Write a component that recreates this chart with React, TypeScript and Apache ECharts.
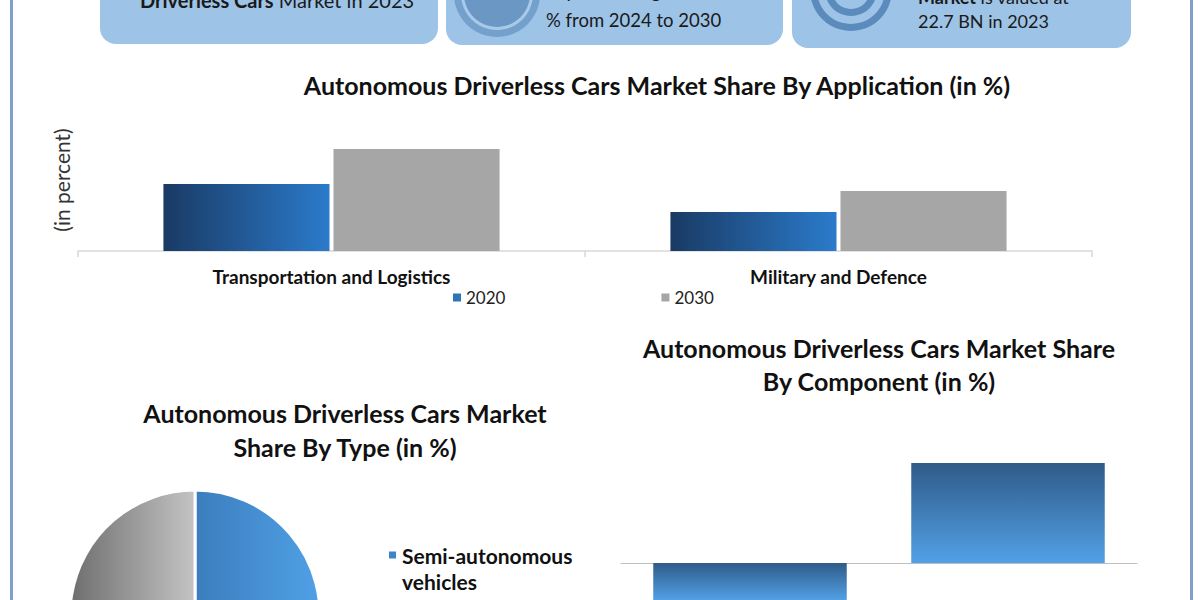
import React, { useEffect, useRef } from "react";
import * as echarts from "echarts";

// ---- data ----
const appCategories = ["Transportation and Logistics", "Military and Defence"];
const appYears = ["2020", "2030"];
const apps2020 = [33.5, 19.5];
const apps2030 = [51, 30];

const typeNames = ["Semi-autonomous vehicles", "Fully autonomous vehicles"];
const typeShares = [55, 45];

const componentNames = ["Hardware", "Software"];
const componentShares = [-30, 50];

const FONT = "Lato, 'Open Sans', sans-serif";

// legend marker: a square at the top of a taller, otherwise empty box
const TOP_SQUARE = "path://M0,0L9,0L9,9L0,9Z M0,35L0.01,35L0.01,35.01L0,35.01Z";

export default function App() {
  const ref = useRef<HTMLDivElement>(null);

  useEffect(() => {
    if (!ref.current) return;
    const chart = echarts.init(ref.current, null, { renderer: "svg" });

    const hGrad = (a: string, b: string) => ({
      type: "linear", x: 0, y: 0, x2: 1, y2: 0,
      colorStops: [{ offset: 0, color: a }, { offset: 1, color: b }],
    });
    const vGrad = (a: string, b: string) => ({
      type: "linear", x: 0, y: 0, x2: 0, y2: 1,
      colorStops: [{ offset: 0, color: a }, { offset: 1, color: b }],
    });

    const cardFill = "#9dc3e6";
    const titleStyle = (lh: number) => ({
      fontFamily: FONT, fontWeight: "bold", fontSize: 25, color: "#111", lineHeight: lh,
    });

    const option: any = {
      animation: false,
      backgroundColor: "#ffffff",
      textStyle: { fontFamily: FONT },
      title: [
        {
          text: "Autonomous Driverless Cars Market Share By Application (in %)",
          left: 657, top: 70, textAlign: "center", padding: 0,
          textStyle: titleStyle(30),
        },
        {
          text: "Autonomous Driverless Cars Market\nShare By Type (in %)",
          left: 345, top: 396, textAlign: "center", padding: 0,
          textStyle: titleStyle(34),
        },
        {
          text: "Autonomous Driverless Cars Market Share\nBy Component (in %)",
          left: 879, top: 331, textAlign: "center", padding: 0,
          textStyle: titleStyle(33),
        },
      ],
      legend: [
        {
          left: 453, top: 289, padding: 0, itemWidth: 8, itemHeight: 8, itemGap: 156,
          icon: "rect",
          data: [
            { name: appYears[0], itemStyle: { color: "#2e75b6" } },
            { name: appYears[1], itemStyle: { color: "#a6a6a6" } },
          ],
          textStyle: { fontFamily: FONT, fontSize: 17, color: "#222" },
        },
        {
          left: 387, top: 542, padding: 0, orient: "vertical", height: 200,
          itemWidth: 9, itemHeight: 35, itemGap: 10,
          icon: TOP_SQUARE,
          data: [
            { name: typeNames[0], itemStyle: { color: "#3f84c6" } },
            { name: typeNames[1], itemStyle: { color: "#a6a6a6" } },
          ],
          formatter: (n: string) => n.replace(" vehicles", "\nvehicles"),
          textStyle: {
            fontFamily: FONT, fontSize: 21, fontWeight: "bold", color: "#111", lineHeight: 26,
          },
        },
      ],
      grid: [
        { left: 78, right: 108, top: 109, height: 142 },
        { left: 621, right: 63, top: 463, bottom: 0 },
      ],
      xAxis: [
        {
          type: "category", gridIndex: 0, data: appCategories,
          axisLine: { lineStyle: { color: "#d9d9d9", width: 1.5 } },
          axisTick: { show: true, length: 6, lineStyle: { color: "#d9d9d9", width: 1.5 } },
          axisLabel: { fontFamily: FONT, fontWeight: "bold", fontSize: 19, color: "#111", margin: 16 },
        },
        {
          type: "category", gridIndex: 1, data: componentNames,
          axisLine: { lineStyle: { color: "#bfbfbf", width: 1 } },
          axisTick: { show: false },
          axisLabel: { show: false },
        },
      ],
      yAxis: [
        {
          type: "value", gridIndex: 0, min: 0, max: 71,
          splitLine: { show: false }, axisLabel: { show: false }, axisLine: { show: false }, axisTick: { show: false },
          name: "(in percent)", nameLocation: "middle", nameRotate: 90, nameGap: 6,
          nameTextStyle: { fontFamily: FONT, fontSize: 21, color: "#333" },
        },
        {
          type: "value", gridIndex: 1, min: -18.5, max: 50,
          splitLine: { show: false }, axisLabel: { show: false }, axisLine: { show: false }, axisTick: { show: false },
        },
      ],
      series: [
        {
          name: appYears[0], type: "bar", xAxisIndex: 0, yAxisIndex: 0,
          data: apps2020, barCategoryGap: "33.7%", barGap: "2.4%",
          itemStyle: { color: hGrad("#193a64", "#2b7bcb") },
        },
        {
          name: appYears[1], type: "bar", xAxisIndex: 0, yAxisIndex: 0,
          data: apps2030, barCategoryGap: "33.7%", barGap: "2.4%",
          itemStyle: { color: "#a6a6a6" },
        },
        {
          name: "Type", type: "pie", center: [195, 615], radius: 125, startAngle: 90,
          label: { show: false }, labelLine: { show: false },
          itemStyle: { borderColor: "#ffffff", borderWidth: 3 },
          data: [
            { name: typeNames[0], value: typeShares[0], itemStyle: { color: hGrad("#3573b0", "#50a0e6") } },
            { name: typeNames[1], value: typeShares[1], itemStyle: { color: hGrad("#6e6e6e", "#c4c4c4") } },
          ],
        },
        {
          name: "Component", type: "bar", xAxisIndex: 1, yAxisIndex: 1,
          data: componentShares, barCategoryGap: "25%", clip: true,
          itemStyle: { color: vGrad("#2f5b88", "#52a0e6") },
        },
      ],
      graphic: [
        // side borders
        { type: "rect", shape: { x: 10, y: 0, width: 3, height: 600 }, style: { fill: "#7fa0c8" } },
        { type: "rect", shape: { x: 1190, y: 0, width: 3, height: 600 }, style: { fill: "#7fa0c8" } },
        // cards
        { type: "rect", shape: { x: 100, y: -30, width: 338, height: 74, r: 16 }, style: { fill: cardFill } },
        { type: "rect", shape: { x: 446, y: -30, width: 337, height: 75, r: 16 }, style: { fill: cardFill } },
        { type: "rect", shape: { x: 792, y: -30, width: 339, height: 78, r: 16 }, style: { fill: cardFill } },
        // card 2 icon
        { type: "circle", shape: { cx: 497, cy: -6, r: 43 }, style: { fill: "#74a0cc" } },
        { type: "circle", shape: { cx: 497, cy: -6, r: 36 }, style: { fill: "#a9c9ea" } },
        { type: "circle", shape: { cx: 497, cy: -6, r: 33 }, style: { fill: "#6a97c4" } },
        // card 3 icon
        { type: "ring", shape: { cx: 851, cy: -10, r: 41, r0: 34 }, style: { fill: "#5b8bbd" } },
        { type: "ring", shape: { cx: 851, cy: -10, r: 26, r0: 19 }, style: { fill: "#5b8bbd" } },
        // card texts
        {
          type: "text", x: 140, y: 0,
          style: {
            text: "{b|Driverless Cars} Market in 2023",
            font: `20px ${FONT}`, fill: "#1a1a1a", textVerticalAlign: "middle",
            rich: { b: { fontWeight: "bold", fontSize: 20, fontFamily: FONT, fill: "#1a1a1a" } },
          },
        },
        {
          type: "text", x: 546, y: -10,
          style: { text: "Expected to grow at a CAGR of", font: `19px ${FONT}`, fill: "#1a1a1a", textVerticalAlign: "middle" },
        },
        {
          type: "text", x: 546, y: 20,
          style: { text: "% from 2024 to 2030", font: `18.5px ${FONT}`, fill: "#1a1a1a", textVerticalAlign: "middle" },
        },
        {
          type: "text", x: 918, y: -3,
          style: {
            text: "{b|Market} is valued at",
            font: `18px ${FONT}`, fill: "#1a1a1a", textVerticalAlign: "middle",
            rich: { b: { fontWeight: "bold", fontSize: 18, fontFamily: FONT, fill: "#1a1a1a" } },
          },
        },
        {
          type: "text", x: 918, y: 21,
          style: { text: "22.7 BN in 2023", font: `18px ${FONT}`, fill: "#1a1a1a", textVerticalAlign: "middle" },
        },
      ],
    };

    chart.setOption(option);
    return () => chart.dispose();
  }, []);

  return (
    <div
      ref={ref}
      style={{ position: "fixed", left: 0, top: 0, width: 1200, height: 600, background: "#fff" }}
    />
  );
}
